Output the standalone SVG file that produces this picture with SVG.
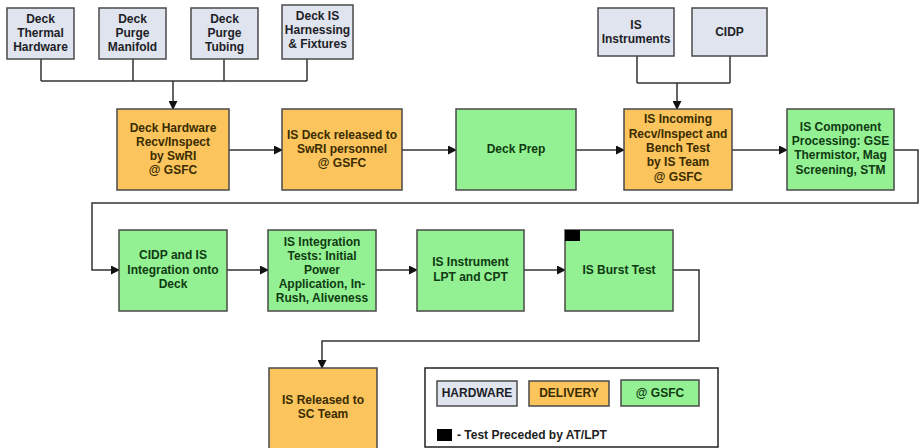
<svg xmlns="http://www.w3.org/2000/svg" width="920" height="448" viewBox="0 0 920 448">
  <style>
    text { font-family: "Liberation Sans", Arial, sans-serif; font-weight: bold; font-size: 12px; text-anchor: middle; }
    .hw rect { fill: #dfe4ee; stroke: #4a4a4a; stroke-width: 1.5; }
    .hw text { fill: #1e1e28; }
    .dl rect { fill: #fbc45c; stroke: #4a4a4a; stroke-width: 1.5; }
    .dl text { fill: #3a2c00; }
    .gs rect { fill: #93f193; stroke: #4a4a4a; stroke-width: 1.5; }
    .gs text { fill: #0f3a12; }
    rect.flag, .gs rect.flag { fill: #000; stroke: none; }
    .wire { fill: none; stroke: #333; stroke-width: 1.5; }
    .arrow { fill: none; stroke: #333; stroke-width: 1.5; marker-end: url(#head); }
  </style>
  <defs>
    <marker id="head" markerWidth="9" markerHeight="9" refX="8" refY="4.5" orient="auto" markerUnits="userSpaceOnUse">
      <path d="M0,0 L9,4.5 L0,9 Z" fill="#111"/>
    </marker>
  </defs>
  <rect width="920" height="448" fill="#fff"/>

  <!-- connectors -->
  <g id="connectors">
    <path class="wire" d="M41,59 V81 M133,59 V81 M224,59 V81 M307,59 V81 M41,81 H307"/>
    <path class="arrow" d="M173,81 V109"/>
    <path class="wire" d="M637,56 V83 M730,56 V83 M637,83 H730"/>
    <path class="arrow" d="M677,83 V109"/>
    <path class="arrow" d="M229,150 H282"/>
    <path class="arrow" d="M402,150 H456"/>
    <path class="arrow" d="M576,150 H624"/>
    <path class="arrow" d="M732,150 H787"/>
    <path class="arrow" d="M894,150 H918 V203 H92 V270 H119"/>
    <path class="arrow" d="M227,270 H268"/>
    <path class="arrow" d="M376,270 H417"/>
    <path class="arrow" d="M524,270 H565"/>
    <path class="arrow" d="M673,270 H699 V341 H322 V368"/>
  </g>

  <!-- hardware inputs -->
  <g id="deck-thermal" class="hw">
    <rect x="7" y="8" width="67" height="51"/>
    <text x="40.5" y="23">Deck</text>
    <text x="40.5" y="37">Thermal</text>
    <text x="40.5" y="51">Hardware</text>
  </g>
  <g id="deck-purge-manifold" class="hw">
    <rect x="99" y="8" width="67" height="51"/>
    <text x="132.5" y="23">Deck</text>
    <text x="132.5" y="37">Purge</text>
    <text x="132.5" y="51">Manifold</text>
  </g>
  <g id="deck-purge-tubing" class="hw">
    <rect x="191" y="8" width="67" height="51"/>
    <text x="224.5" y="23">Deck</text>
    <text x="224.5" y="37">Purge</text>
    <text x="224.5" y="51">Tubing</text>
  </g>
  <g id="deck-is-harnessing" class="hw">
    <rect x="282" y="5" width="71" height="54"/>
    <text x="317.5" y="20">Deck IS</text>
    <text x="317.5" y="34">Harnessing</text>
    <text x="317.5" y="48">&amp; Fixtures</text>
  </g>
  <g id="is-instruments" class="hw">
    <rect x="598" y="8" width="76" height="48"/>
    <text x="636" y="29">IS</text>
    <text x="636" y="43">Instruments</text>
  </g>
  <g id="cidp" class="hw">
    <rect x="692" y="8" width="75" height="48"/>
    <text x="729.5" y="36">CIDP</text>
  </g>

  <!-- first row -->
  <g id="deck-hw-recv" class="dl">
    <rect x="117" y="109" width="112" height="81"/>
    <text x="173" y="132">Deck Hardware</text>
    <text x="173" y="146">Recv/Inspect</text>
    <text x="173" y="160">by SwRI</text>
    <text x="173" y="174">@ GSFC</text>
  </g>
  <g id="is-deck-released" class="dl">
    <rect x="282" y="109" width="120" height="81"/>
    <text x="342" y="139">IS Deck released to</text>
    <text x="342" y="153">SwRI personnel</text>
    <text x="342" y="167">@ GSFC</text>
  </g>
  <g id="deck-prep" class="gs">
    <rect x="456" y="109" width="120" height="81"/>
    <text x="516" y="153">Deck Prep</text>
  </g>
  <g id="is-incoming" class="dl">
    <rect x="624" y="109" width="108" height="81"/>
    <text x="678" y="123">IS Incoming</text>
    <text x="678" y="138">Recv/Inspect and</text>
    <text x="678" y="152">Bench Test</text>
    <text x="678" y="166">by IS Team</text>
    <text x="678" y="181">@ GSFC</text>
  </g>
  <g id="is-component" class="gs">
    <rect x="787" y="109" width="107" height="81"/>
    <text x="840.5" y="131">IS Component</text>
    <text x="840.5" y="145">Processing: GSE</text>
    <text x="840.5" y="159">Thermistor, Mag</text>
    <text x="840.5" y="174">Screening, STM</text>
  </g>

  <!-- second row -->
  <g id="cidp-is-integration" class="gs">
    <rect x="119" y="230" width="108" height="81"/>
    <text x="173" y="259">CIDP and IS</text>
    <text x="173" y="274">Integration onto</text>
    <text x="173" y="288">Deck</text>
  </g>
  <g id="is-integration-tests" class="gs">
    <rect x="268" y="230" width="108" height="81"/>
    <text x="322" y="246">IS Integration</text>
    <text x="322" y="260">Tests: Initial</text>
    <text x="322" y="274">Power</text>
    <text x="322" y="288">Application, In-</text>
    <text x="322" y="302">Rush, Aliveness</text>
  </g>
  <g id="is-instrument-lpt" class="gs">
    <rect x="417" y="230" width="107" height="81"/>
    <text x="470.5" y="266">IS Instrument</text>
    <text x="470.5" y="281">LPT and CPT</text>
  </g>
  <g id="is-burst-test" class="gs">
    <rect x="565" y="230" width="108" height="81"/>
    <rect class="flag" x="565" y="230" width="15" height="11"/>
    <text x="619" y="274">IS Burst Test</text>
  </g>

  <!-- release -->
  <g id="is-released" class="dl">
    <rect x="269" y="368" width="108" height="90"/>
    <text x="323" y="404">IS Released to</text>
    <text x="323" y="418">SC Team</text>
  </g>

  <!-- legend -->
  <g id="legend">
    <rect x="425" y="368" width="293" height="79" fill="#fff" stroke="#222" stroke-width="1.5"/>
    <g class="hw">
      <rect x="437" y="381" width="80" height="25"/>
      <text x="477" y="397">HARDWARE</text>
    </g>
    <g class="dl">
      <rect x="529" y="381" width="80" height="25"/>
      <text x="569" y="397">DELIVERY</text>
    </g>
    <g class="gs">
      <rect x="621" y="380" width="78" height="26"/>
      <text x="660" y="397">@ GSFC</text>
    </g>
    <rect class="flag" x="437" y="429" width="15" height="12"/>
    <text x="457" y="439" style="text-anchor:start; fill:#1e1e1e">- Test Preceded by AT/LPT</text>
  </g>
</svg>
